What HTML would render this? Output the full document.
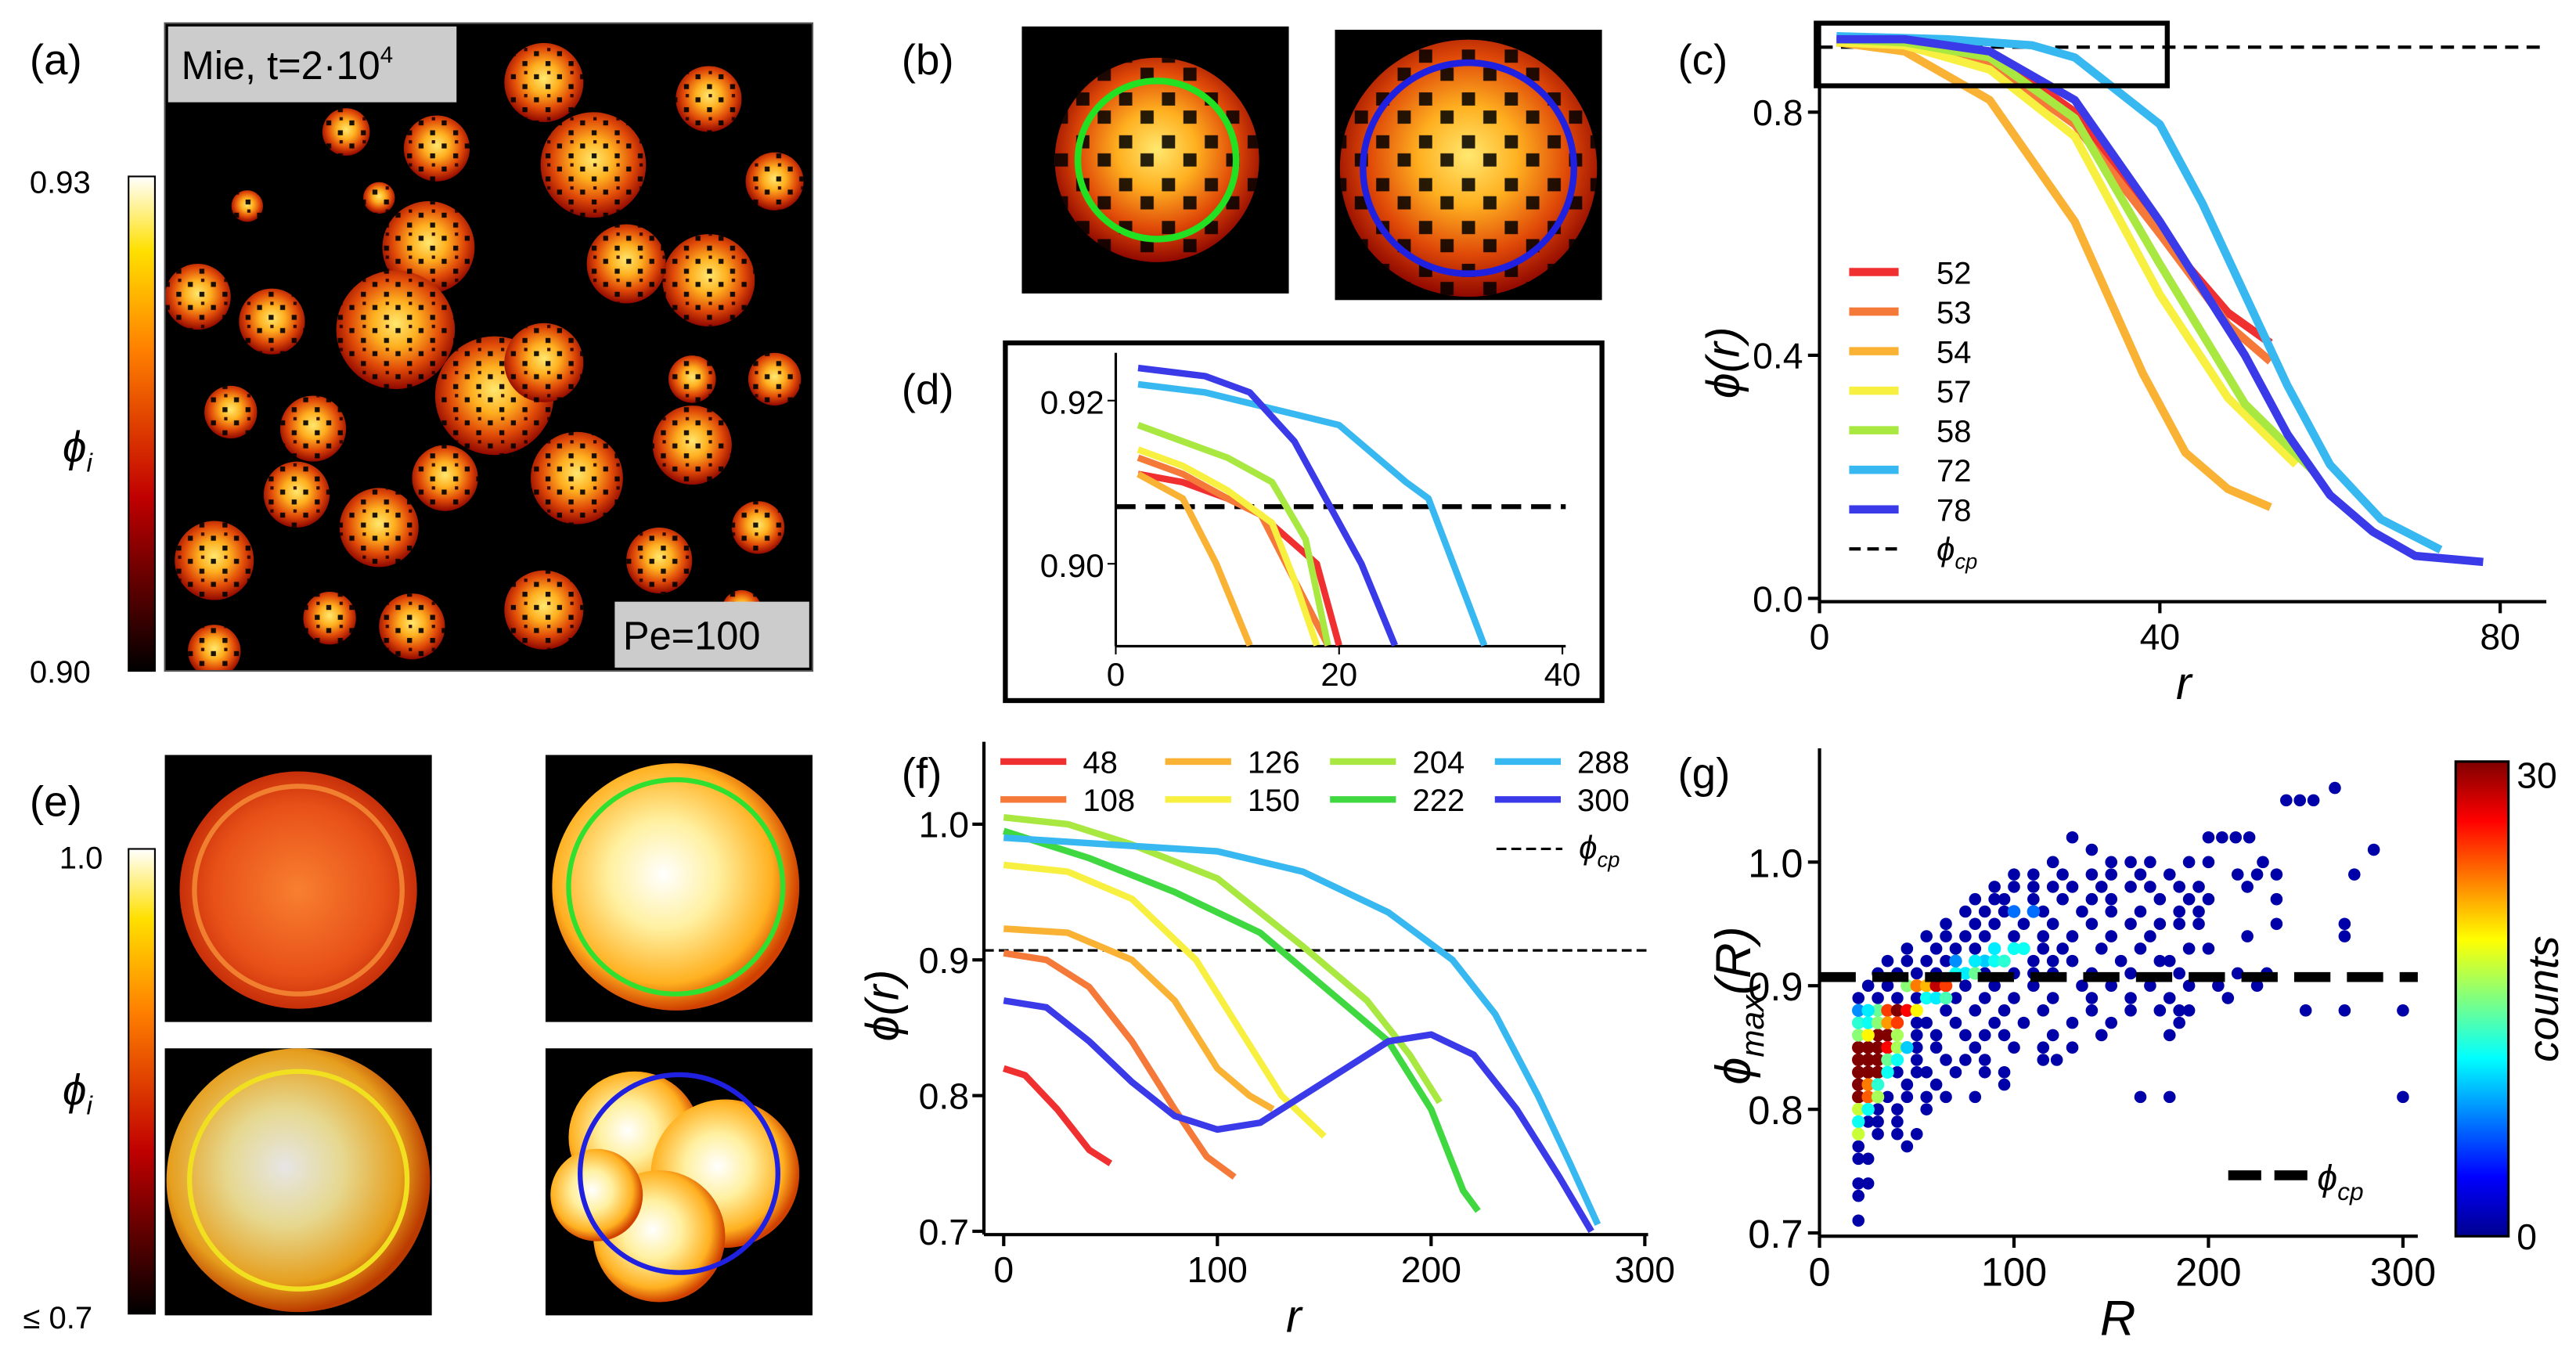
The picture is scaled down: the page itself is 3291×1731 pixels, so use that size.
<!DOCTYPE html>
<html><head><meta charset="utf-8">
<style>
html,body{margin:0;padding:0;background:#fff;}
svg{display:block;font-family:"Liberation Sans","DejaVu Sans",sans-serif;}
</style></head>
<body>
<svg id="fig" width="3291" height="1731" viewBox="0 0 1563 822" xmlns="http://www.w3.org/2000/svg">
<defs>
<radialGradient id="blob" cx="50%" cy="45%" r="55%">
<stop offset="0" stop-color="#ffe870"/><stop offset="0.35" stop-color="#ffb020"/><stop offset="0.7" stop-color="#e04a08"/><stop offset="1" stop-color="#900800"/>
</radialGradient>
<radialGradient id="blobO" cx="50%" cy="50%" r="60%">
<stop offset="0" stop-color="#f88030"/><stop offset="0.6" stop-color="#e85018"/><stop offset="1" stop-color="#b01800"/>
</radialGradient>
<radialGradient id="blobW" cx="45%" cy="45%" r="55%">
<stop offset="0" stop-color="#ffffff"/><stop offset="0.4" stop-color="#fff0a0"/><stop offset="0.8" stop-color="#ffb020"/><stop offset="1" stop-color="#d04000"/>
</radialGradient>
<pattern id="speck" width="14" height="14" patternUnits="userSpaceOnUse">
<rect x="2" y="3" width="3" height="3" fill="#000"/><rect x="9" y="9" width="3" height="3" fill="#000"/><rect x="10" y="1" width="2" height="2" fill="#200"/>
</pattern>
<pattern id="speck2" width="26" height="26" patternUnits="userSpaceOnUse">
<rect x="3" y="4" width="8" height="8" fill="#000"/><rect x="16" y="15" width="8" height="8" fill="#000"/>
</pattern>
<linearGradient id="hotbar" x1="0" y1="1" x2="0" y2="0">
<stop offset="0" stop-color="#000"/><stop offset="0.35" stop-color="#c00000"/><stop offset="0.65" stop-color="#ff8000"/><stop offset="0.85" stop-color="#ffe000"/><stop offset="1" stop-color="#ffffff"/>
</linearGradient>
<linearGradient id="jetbar" x1="0" y1="1" x2="0" y2="0">
<stop offset="0" stop-color="#00008f"/><stop offset="0.125" stop-color="#0000ff"/><stop offset="0.375" stop-color="#00ffff"/><stop offset="0.5" stop-color="#80ff80"/><stop offset="0.625" stop-color="#ffff00"/><stop offset="0.875" stop-color="#ff0000"/><stop offset="1" stop-color="#800000"/>
</linearGradient>
<clipPath id="clipA"><rect x="100" y="14" width="393" height="393"/></clipPath>
</defs>

<g font-size="26" fill="#000">
<text x="18" y="45">(a)</text>
<text x="547" y="45">(b)</text>
<text x="1018" y="45">(c)</text>
<text x="547" y="245">(d)</text>
<text x="18" y="495">(e)</text>
<text x="547" y="478">(f)</text>
<text x="1018" y="478">(g)</text>
</g>

<g>
<rect x="100" y="14" width="393" height="393" fill="#000"/>
<g id="blobsA" clip-path="url(#clipA)"></g>
<rect x="100" y="14" width="393" height="393" fill="none" stroke="#555" stroke-width="1"/>
<rect x="102" y="16" width="175" height="46" fill="#ccc"/>
<text x="110" y="48" font-size="24">Mie, t=2·10<tspan font-size="14" dy="-10">4</tspan></text>
<rect x="373" y="365" width="118" height="40" fill="#ccc"/>
<text x="378" y="394" font-size="24">Pe=100</text>
</g>
<g>
<rect x="78" y="107" width="16" height="300" fill="url(#hotbar)" stroke="#000" stroke-width="1"/>
<text x="18" y="117" font-size="19">0.93</text>
<text x="18" y="414" font-size="19">0.90</text>
<text x="38" y="280" font-size="26" font-style="italic">ϕ<tspan font-size="16" dy="6">i</tspan></text>
</g>

<g>
<rect x="620" y="16" width="162" height="162" fill="#000"/>
<circle cx="702" cy="97" r="62" fill="url(#blob)"/>
<circle cx="702" cy="97" r="62" fill="url(#speck2)" opacity="0.85"/>
<circle cx="702" cy="97" r="48" fill="none" stroke="#22e022" stroke-width="4"/>
<rect x="810" y="18" width="162" height="164" fill="#000"/>
<circle cx="891" cy="102" r="78" fill="url(#blob)"/>
<circle cx="891" cy="102" r="78" fill="url(#speck2)" opacity="0.85"/>
<circle cx="891" cy="102" r="64" fill="none" stroke="#2020e0" stroke-width="4"/>
</g>

<g>
<rect x="100" y="458" width="162" height="162" fill="#000"/>
<circle cx="181" cy="540" r="72" fill="url(#blobO)"/>
<circle cx="181" cy="540" r="63" fill="none" stroke="#f08030" stroke-width="3"/>
<rect x="331" y="458" width="162" height="162" fill="#000"/>
<circle cx="410" cy="538" r="75" fill="url(#blobW)"/>
<circle cx="410" cy="538" r="65" fill="none" stroke="#30e030" stroke-width="3"/>
<rect x="100" y="636" width="162" height="162" fill="#000"/>
<circle cx="181" cy="716" r="80" fill="url(#blobW)" opacity="0.9"/>
<circle cx="181" cy="716" r="66" fill="none" stroke="#f0e020" stroke-width="3"/>
<rect x="331" y="636" width="162" height="162" fill="#000"/>
<circle cx="385" cy="690" r="40" fill="url(#blobW)"/>
<circle cx="440" cy="712" r="45" fill="url(#blobW)"/>
<circle cx="400" cy="750" r="40" fill="url(#blobW)"/>
<circle cx="362" cy="725" r="28" fill="url(#blobW)"/>
<circle cx="412" cy="712" r="60" fill="none" stroke="#2020e0" stroke-width="3"/>
</g>
<g>
<rect x="78" y="515" width="16" height="282" fill="url(#hotbar)" stroke="#000" stroke-width="1"/>
<text x="36" y="527" font-size="19">1.0</text>
<text x="14" y="806" font-size="19">≤ 0.7</text>
<text x="38" y="670" font-size="26" font-style="italic">ϕ<tspan font-size="16" dy="6">i</tspan></text>
</g>

<g id="chartC"></g>
<g id="chartD"></g>
<g id="chartF"></g>
<g id="chartG"></g>
</svg>

<script>
const blobsA = [[330,50,30],[265,90,25],[360,100,40],[430,60,25],[470,110,22],[180,40,15],[210,80,18],[150,125,12],[430,170,35],[380,160,30],[470,230,20],[120,180,25],[165,195,25],[260,150,35],[240,200,45],[300,240,45],[330,220,30],[190,260,25],[140,250,20],[180,300,25],[230,320,30],[270,290,25],[350,290,35],[420,270,30],[460,320,20],[130,340,30],[250,380,25],[200,375,20],[330,370,30],[400,340,25],[130,395,20],[450,370,15],[420,230,18],[410,385,15],[230,120,12]];

const cLabels = ["52","53","54","57","58","72","78"];
const cColors = ["#f03030","#f57a3a","#f9b233","#f8f040","#a8e840","#38b8f0","#3a3ae8"];
const cR = [
 [2,10,20,30,40,48,53],
 [2,10,20,30,40,48,53],
 [2,10,20,30,38,43,48,53],
 [2,10,20,30,40,48,56],
 [2,10,20,30,40,50,58],
 [2,15,25,30,40,45,50,55,60,66,73],
 [2,10,20,30,40,50,55,60,65,70,78]];
const cPhi = [
 [0.92,0.915,0.9,0.8,0.6,0.47,0.42],
 [0.92,0.91,0.88,0.78,0.6,0.45,0.39],
 [0.915,0.9,0.82,0.62,0.37,0.24,0.18,0.15],
 [0.915,0.91,0.87,0.76,0.5,0.33,0.22],
 [0.92,0.915,0.89,0.79,0.55,0.32,0.21],
 [0.925,0.92,0.91,0.89,0.78,0.65,0.5,0.35,0.22,0.13,0.08],
 [0.92,0.92,0.9,0.82,0.62,0.4,0.27,0.17,0.11,0.07,0.06]];
const cXTicks = [0,40,80];
const cYTicks = [0.0,0.4,0.8];
const phiCP = 0.907;

const dR = [
 [2,6,10,13,18,20],
 [2,6,10,13,16,19],
 [2,6,9,12],
 [2,6,10,14,16,18],
 [2,6,10,14,17,19],
 [2,8,14,20,26,28,33],
 [2,8,12,16,20,22,25]];
const dPhi = [
 [0.911,0.910,0.908,0.906,0.900,0.890],
 [0.913,0.911,0.908,0.906,0.898,0.890],
 [0.911,0.908,0.900,0.890],
 [0.914,0.912,0.909,0.905,0.898,0.890],
 [0.917,0.915,0.913,0.910,0.903,0.890],
 [0.922,0.921,0.919,0.917,0.910,0.908,0.890],
 [0.924,0.923,0.921,0.915,0.905,0.900,0.890]];
const dXTicks = [0,20,40];
const dYTicks = [0.90,0.92];

const fLabels = ["48","108","126","150","204","222","288","300"];
const fColors = ["#f03030","#f57a3a","#f9b233","#f8f040","#a8e840","#40d840","#38b8f0","#3a3ae8"];
const fR = [
 [0,10,25,40,50],
 [0,20,40,60,80,95,108],
 [0,30,60,80,100,115,126],
 [0,30,60,90,110,130,150],
 [0,30,60,100,140,170,190,204],
 [0,40,80,120,150,180,200,215,222],
 [0,50,100,140,180,210,230,250,265,278],
 [0,20,40,60,80,100,120,150,180,200,220,240,260,275]];
const fPhi = [
 [0.82,0.815,0.79,0.76,0.75],
 [0.905,0.9,0.88,0.84,0.79,0.755,0.74],
 [0.923,0.92,0.9,0.87,0.82,0.8,0.79],
 [0.97,0.965,0.945,0.9,0.85,0.8,0.77],
 [1.005,1.0,0.985,0.96,0.91,0.87,0.83,0.795],
 [0.995,0.975,0.95,0.92,0.88,0.84,0.79,0.73,0.715],
 [0.99,0.985,0.98,0.965,0.935,0.9,0.86,0.8,0.75,0.705],
 [0.87,0.865,0.84,0.81,0.785,0.775,0.78,0.81,0.84,0.845,0.83,0.79,0.74,0.7]];
const fXTicks = [0,100,200,300];
const fYTicks = [0.7,0.8,0.9,1.0];

const gPhiLevels = [1.06,1.05,1.02,1.01,1.0,0.99,0.98,0.97,0.96,0.95,0.94,0.93,0.92,0.91,0.90,0.89,0.88,0.87,0.86,0.85,0.84,0.83,0.82,0.81,0.80,0.79,0.78,0.77,0.76,0.74,0.73,0.71];
const gRRows = [
 [265],[240,247,254],[130,200,207,214,221],[140,285],
 [120,150,160,170,190,200,228],
 [100,110,125,140,150,165,180,215,225,235,275],
 [90,100,110,120,130,145,160,170,185,195,220],
 [80,90,95,110,125,140,150,175,190,200,235],
 [75,85,95,100,115,135,150,165,185,195],
 [65,80,90,105,120,140,160,175,185,195,235,270],
 [55,65,75,85,100,115,130,150,170,220,270],
 [45,60,70,80,90,105,115,125,145,165,190,200],
 [35,45,55,65,80,95,110,120,130,155,175,180],
 [30,40,50,60,70,85,100,110,120,140,160,185,215,230],
 [25,35,45,55,65,75,90,110,135,150,170,190,205,225],
 [20,30,40,50,60,70,85,100,120,140,160,180,210],
 [20,25,30,40,50,65,80,95,115,140,160,175,185,190,250,270,300],
 [20,25,30,40,50,55,70,90,105,130,150,185],
 [20,25,30,40,50,60,75,85,95,120,145,180],
 [20,25,30,35,40,50,60,80,100,115,130],
 [20,25,30,35,40,50,65,75,85,115,122],
 [20,25,30,40,50,55,70,85,95],
 [20,25,30,45,60,95],
 [20,25,30,35,45,55,65,80,165,180,300],
 [20,25,30,40,55],
 [20,25,30,40],
 [20,30,40,50],[20,45],[20,25],[20,25],[20],[20]];
const gHot = [[20,0.85,30],[25,0.85,30],[30,0.85,30],[20,0.84,30],[25,0.84,30],[30,0.84,30],[20,0.83,30],[25,0.83,30],[30,0.83,30],[20,0.82,30],[20,0.81,30],[25,0.82,22],[25,0.81,23],[30,0.86,30],[35,0.86,30],[35,0.85,26],[20,0.86,14],[25,0.86,18],[20,0.87,11],[25,0.87,10],[30,0.87,14],[30,0.88,13],[35,0.88,24],[40,0.88,30],[45,0.88,26],[50,0.88,18],[35,0.87,21],[40,0.87,24],[40,0.86,15],[40,0.85,15],[45,0.85,8],[35,0.84,13],[40,0.84,10],[35,0.83,10],[30,0.82,11],[30,0.81,15],[20,0.80,16],[25,0.80,10],[20,0.79,10],[20,0.78,16],[20,0.88,6],[25,0.88,9],[45,0.90,14],[50,0.90,22],[55,0.90,20],[60,0.90,28],[65,0.90,24],[55,0.89,10],[60,0.89,9],[65,0.89,12],[70,0.91,10],[75,0.91,9],[80,0.91,13],[85,0.92,8],[90,0.92,10],[95,0.92,11],[90,0.93,9],[100,0.93,10],[105,0.93,10],[80,0.92,9],[70,0.92,6],[100,0.96,5],[110,0.96,5]];
const gXTicks = [0,100,200,300];
const gYTicks = [0.7,0.8,0.9,1.0];

const NS = "http://www.w3.org/2000/svg";
function mk(parent, tag, attrs, text){
  const e = document.createElementNS(NS, tag);
  for (const k in attrs) e.setAttribute(k, attrs[k]);
  if (text !== undefined) e.textContent = text;
  parent.appendChild(e); return e;
}
function lin(d0,d1,r0,r1){ return v => r0 + (v-d0)*(r1-r0)/(d1-d0); }
function pathOf(xs, ys, sx, sy){ return xs.map((x,i)=>(i?"L":"M")+sx(x).toFixed(2)+","+sy(ys[i]).toFixed(2)).join(""); }
function jet(t){
  t=Math.max(0,Math.min(1,t));
  const r=Math.max(0,Math.min(1,1.5-Math.abs(4*t-3)));
  const g=Math.max(0,Math.min(1,1.5-Math.abs(4*t-2)));
  const b=Math.max(0,Math.min(1,1.5-Math.abs(4*t-1)));
  return `rgb(${Math.round(r*255)},${Math.round(g*255)},${Math.round(b*255)})`;
}

const bA = document.getElementById("blobsA");
blobsA.forEach(b=>{
  const c = mk(bA,"circle",{cx:b[0],cy:b[1],r:b[2]*0.8,fill:"url(#blob)"});
  
  
  mk(bA,"circle",{cx:b[0],cy:b[1],r:b[2]*0.8,fill:"url(#speck)",opacity:0.9});
});

(function(){
  const g = document.getElementById("chartC");
  const sx = lin(0,80,1104,1517), sy = lin(0,0.8,363,68);
  mk(g,"line",{x1:1104,y1:14,x2:1104,y2:365,stroke:"#000","stroke-width":2});
  mk(g,"line",{x1:1104,y1:365,x2:1545,y2:365,stroke:"#000","stroke-width":2});
  cXTicks.forEach(t=>{mk(g,"line",{x1:sx(t),y1:365,x2:sx(t),y2:372,stroke:"#000","stroke-width":2});
    const l=mk(g,"text",{x:sx(t),y:394,"font-size":22,"text-anchor":"middle"},String(t));
    
    });
  cYTicks.forEach(t=>{mk(g,"line",{x1:1097,y1:sy(t),x2:1104,y2:sy(t),stroke:"#000","stroke-width":2});
    const l=mk(g,"text",{x:1094,y:sy(t)+8,"font-size":22,"text-anchor":"end"},t.toFixed(1));
    
    });
  mk(g,"line",{x1:1104,y1:sy(phiCP),x2:1545,y2:sy(phiCP),stroke:"#000","stroke-width":2,"stroke-dasharray":"8,5"});
  cR.forEach((xs,i)=>{const p=mk(g,"path",{d:pathOf(xs,cPhi[i],sx,sy),fill:"none",stroke:cColors[i],"stroke-width":5,"stroke-linejoin":"round"});
    
    });
  mk(g,"rect",{x:1102,y:14,width:213,height:38,fill:"none",stroke:"#000","stroke-width":3});
  cLabels.forEach((lb,i)=>{const y=165+i*24;
    mk(g,"line",{x1:1122,y1:y,x2:1152,y2:y,stroke:cColors[i],"stroke-width":5});
    const t=mk(g,"text",{x:1175,y:y+7,"font-size":19},lb);
    
    });
  mk(g,"line",{x1:1122,y1:333,x2:1152,y2:333,stroke:"#000","stroke-width":2,"stroke-dasharray":"7,4"});
  mk(g,"text",{x:1175,y:340,"font-size":20,"font-style":"italic"}).innerHTML='ϕ<tspan font-size="13" dy="5">cp</tspan>';
  const yl=mk(g,"text",{x:0,y:0,"font-size":28,"font-style":"italic",transform:"translate(1055,220) rotate(-90)","text-anchor":"middle"},"ϕ(r)");
  
  
  const xl=mk(g,"text",{x:1325,y:424,"font-size":28,"font-style":"italic","text-anchor":"middle"},"r");
  
  
})();

(function(){
  const g = document.getElementById("chartD");
  mk(g,"rect",{x:610,y:208,width:362,height:217,fill:"none",stroke:"#000","stroke-width":3});
  const sx = lin(0,40,677,948), sy = lin(0.90,0.92,342,243);
  mk(g,"line",{x1:677,y1:214,x2:677,y2:392,stroke:"#000","stroke-width":1.5});
  mk(g,"line",{x1:677,y1:392,x2:950,y2:392,stroke:"#000","stroke-width":1.5});
  dXTicks.forEach(t=>{mk(g,"line",{x1:sx(t),y1:392,x2:sx(t),y2:397,stroke:"#000"});
    const l=mk(g,"text",{x:sx(t),y:416,"font-size":20,"text-anchor":"middle"},String(t));
    
    });
  dYTicks.forEach(t=>{mk(g,"line",{x1:672,y1:sy(t),x2:677,y2:sy(t),stroke:"#000"});
    const l=mk(g,"text",{x:670,y:sy(t)+8,"font-size":20,"text-anchor":"end"},t.toFixed(2));
    
    });
  mk(g,"line",{x1:677,y1:sy(phiCP),x2:950,y2:sy(phiCP),stroke:"#000","stroke-width":3,"stroke-dasharray":"12,6"});
  dR.forEach((xs,i)=>{const p=mk(g,"path",{d:pathOf(xs,dPhi[i],sx,sy),fill:"none",stroke:cColors[i],"stroke-width":4,"stroke-linejoin":"round"});
    
    });
})();

(function(){
  const g = document.getElementById("chartF");
  const sx = lin(0,300,609,998), sy = lin(0.7,1.0,747,500);
  mk(g,"line",{x1:597,y1:450,x2:597,y2:749,stroke:"#000","stroke-width":2});
  mk(g,"line",{x1:597,y1:749,x2:1000,y2:749,stroke:"#000","stroke-width":2});
  fXTicks.forEach(t=>{mk(g,"line",{x1:sx(t),y1:749,x2:sx(t),y2:756,stroke:"#000","stroke-width":2});
    const l=mk(g,"text",{x:sx(t),y:778,"font-size":22,"text-anchor":"middle"},String(t));
    
    });
  fYTicks.forEach(t=>{mk(g,"line",{x1:590,y1:sy(t),x2:597,y2:sy(t),stroke:"#000","stroke-width":2});
    const l=mk(g,"text",{x:588,y:sy(t)+8,"font-size":22,"text-anchor":"end"},t.toFixed(1));
    
    });
  mk(g,"line",{x1:597,y1:sy(phiCP),x2:1000,y2:sy(phiCP),stroke:"#000","stroke-width":1.5,"stroke-dasharray":"6,3"});
  fR.forEach((xs,i)=>{const p=mk(g,"path",{d:pathOf(xs,fPhi[i],sx,sy),fill:"none",stroke:fColors[i],"stroke-width":4,"stroke-linejoin":"round"});
    
    });
  fLabels.forEach((lb,i)=>{const col=i>>1,row=i&1;const x=607+col*100,y=462+row*23;
    mk(g,"line",{x1:x,y1:y,x2:x+40,y2:y,stroke:fColors[i],"stroke-width":4});
    const t=mk(g,"text",{x:x+50,y:y+7,"font-size":19},lb);
    
    });
  mk(g,"line",{x1:908,y1:515,x2:948,y2:515,stroke:"#000","stroke-width":1.5,"stroke-dasharray":"6,3"});
  mk(g,"text",{x:958,y:521,"font-size":20,"font-style":"italic"}).innerHTML='ϕ<tspan font-size="13" dy="5">cp</tspan>';
  const yl=mk(g,"text",{x:0,y:0,"font-size":28,"font-style":"italic",transform:"translate(545,610) rotate(-90)","text-anchor":"middle"},"ϕ(r)");
  
  
  const xl=mk(g,"text",{x:785,y:808,"font-size":28,"font-style":"italic","text-anchor":"middle"},"r");
  
  
})();

(function(){
  const g = document.getElementById("chartG");
  const sx = lin(0,300,1104,1458), sy = lin(0.7,1.0,748,523);
  mk(g,"line",{x1:1104,y1:454,x2:1104,y2:750,stroke:"#000","stroke-width":2});
  mk(g,"line",{x1:1104,y1:750,x2:1467,y2:750,stroke:"#000","stroke-width":2});
  gXTicks.forEach(t=>{mk(g,"line",{x1:sx(t),y1:750,x2:sx(t),y2:757,stroke:"#000","stroke-width":2});
    const l=mk(g,"text",{x:sx(t),y:780,"font-size":24,"text-anchor":"middle"},String(t));
    
    });
  gYTicks.forEach(t=>{mk(g,"line",{x1:1097,y1:sy(t),x2:1104,y2:sy(t),stroke:"#000","stroke-width":2});
    const l=mk(g,"text",{x:1094,y:sy(t)+9,"font-size":24,"text-anchor":"end"},t.toFixed(1));
    
    });
  gPhiLevels.forEach((ph,i)=>{gRRows[i].forEach(R=>{
    const c=mk(g,"circle",{cx:sx(R),cy:sy(ph),r:3.7,fill:"#0000a8"});
    
    });});
  gHot.forEach(h=>{
    const c=mk(g,"circle",{cx:sx(h[0]),cy:sy(h[1]),r:3.9,fill:jet(0.08+0.92*h[2]/30)});
    
    });
  mk(g,"line",{x1:1104,y1:sy(phiCP),x2:1467,y2:sy(phiCP),stroke:"#000","stroke-width":6,"stroke-dasharray":"22,10"});
  mk(g,"line",{x1:1352,y1:713,x2:1400,y2:713,stroke:"#000","stroke-width":6,"stroke-dasharray":"20,8"});
  mk(g,"text",{x:1406,y:722,"font-size":22,"font-style":"italic"}).innerHTML='ϕ<tspan font-size="15" dy="6">cp</tspan>';
  const yl=mk(g,"text",{x:0,y:0,"font-size":30,"font-style":"italic",transform:"translate(1062,610) rotate(-90)","text-anchor":"middle"});
  yl.innerHTML='ϕ<tspan font-size="20" dy="8">max</tspan><tspan dy="-8">(R)</tspan>';
  
  
  const xl=mk(g,"text",{x:1285,y:810,"font-size":30,"font-style":"italic","text-anchor":"middle"},"R");
  
  
  const cb=mk(g,"rect",{x:1490,y:462,width:32,height:288,fill:"url(#jetbar)",stroke:"#000","stroke-width":1.5});
  
  
  mk(g,"text",{x:1527,y:478,"font-size":22},"30");
  mk(g,"text",{x:1527,y:758,"font-size":22},"0");
  mk(g,"text",{x:0,y:0,"font-size":26,"font-style":"italic",transform:"translate(1552,606) rotate(-90)","text-anchor":"middle"},"counts");
})();
</script>
</body></html>
